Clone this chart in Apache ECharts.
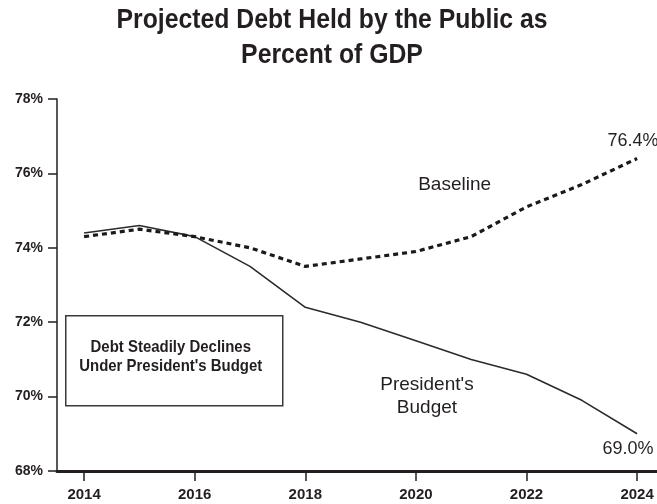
<!DOCTYPE html>
<html>
<head>
<meta charset="utf-8">
<script src="https://cdn.jsdelivr.net/npm/echarts@6/dist/echarts.min.js"></script>
<style>
  html, body { margin: 0; padding: 0; background: #fff; }
  #chart { width: 657px; height: 504px; }
</style>
</head>
<body>
<div id="chart"></div>
<script>
// Projected debt held by the public, percent of GDP, 2014-2024
var years = [2014, 2015, 2016, 2017, 2018, 2019, 2020, 2021, 2022, 2023, 2024];
var presidentsBudget = [74.4, 74.6, 74.3, 73.5, 72.4, 72.0, 71.5, 71.0, 70.6, 69.9, 69.0];
var baseline = [74.3, 74.5, 74.3, 74.0, 73.5, 73.7, 73.9, 74.3, 75.1, 75.7, 76.4];
var yearTicks = [2014, 2016, 2018, 2020, 2022, 2024];
var percentTicks = [68, 70, 72, 74, 76, 78];

var FONT = '"Liberation Sans", Arial, sans-serif';
var INK = '#231f20';
var LAST = years.length - 1;

function pairs(vals) {
  return years.map(function (y, i) { return [y, vals[i]]; });
}

// invisible anchor carrying a text label at a data coordinate
function textPoint(coord, text, label) {
  var l = Object.assign({
    show: true,
    formatter: text,
    fontFamily: FONT,
    fontSize: 19,
    color: INK
  }, label || {});
  return {
    coord: coord,
    value: coord[1],
    symbol: 'circle',
    symbolSize: 0,
    itemStyle: { color: 'rgba(0,0,0,0)' },
    label: l
  };
}

function endValueText(p) {
  return p.value.toFixed(1) + '%';
}

var chart = echarts.init(document.getElementById('chart'), null, { renderer: 'canvas' });

chart.setOption({
  animation: false,
  backgroundColor: '#ffffff',
  grid: { left: 57, right: 0, top: 99, bottom: 33 },
  xAxis: {
    type: 'value',
    min: 2013.51,
    max: 2024.36,
    splitLine: { show: false },
    axisLine: { onZero: false, lineStyle: { color: INK, width: 3 } },
    axisTick: {
      show: true,
      customValues: yearTicks,
      length: 10,
      lineStyle: { color: INK, width: 1.5 }
    },
    axisLabel: {
      customValues: yearTicks,
      margin: 16,
      fontFamily: FONT,
      fontWeight: 'bold',
      fontSize: 15,
      color: INK,
      formatter: function (v) { return String(v); }
    }
  },
  yAxis: {
    type: 'value',
    min: percentTicks[0],
    max: percentTicks[percentTicks.length - 1],
    interval: 2,
    splitLine: { show: false },
    axisLine: { show: true, lineStyle: { color: INK, width: 1.5 } },
    axisTick: { show: true, length: 9, lineStyle: { color: INK, width: 1.5 } },
    axisLabel: {
      margin: 14,
      fontFamily: FONT,
      fontWeight: 'bold',
      fontSize: 14,
      color: INK,
      formatter: '{value}%'
    }
  },
  series: [
    {
      name: "President's Budget",
      type: 'line',
      data: pairs(presidentsBudget),
      showSymbol: false,
      lineStyle: { color: '#2b2b2b', width: 1.6 },
      markPoint: {
        silent: true,
        data: [
          textPoint([2020.2, 70.0], "President's\nBudget", { lineHeight: 23 }),
          textPoint([years[LAST], presidentsBudget[LAST]], endValueText,
            { fontSize: 18, position: 'bottom', distance: 6, offset: [-9, 0] })
        ]
      },
      z: 3
    },
    {
      name: 'Baseline',
      type: 'line',
      data: pairs(baseline),
      showSymbol: false,
      lineStyle: { color: '#1a1a1a', width: 3.2, type: [5, 4] },
      markPoint: {
        silent: true,
        data: [
          textPoint([2020.7, 75.7], 'Baseline'),
          textPoint([years[LAST], baseline[LAST]], endValueText,
            { fontSize: 18, position: 'top', distance: 8, offset: [-4, 0] })
        ]
      },
      z: 4
    }
  ],
  graphic: [
    {
      type: 'text',
      x: 332,
      y: 3,
      scaleX: 0.885,
      style: {
        text: 'Projected Debt Held by the Public as\nPercent of GDP',
        fontFamily: FONT,
        fontWeight: 'bold',
        fontSize: 28,
        lineHeight: 35,
        fill: INK,
        align: 'center',
        verticalAlign: 'top'
      }
    },
    {
      type: 'group',
      left: 65,
      top: 315,
      children: [
        {
          type: 'rect',
          shape: { x: 0, y: 0, width: 217, height: 90 },
          style: { fill: '#ffffff', stroke: '#3a3a3a', lineWidth: 1.5 }
        },
        {
          type: 'text',
          x: 105,
          y: 22,
          scaleX: 0.88,
          style: {
            text: 'Debt Steadily Declines\nUnder President\'s Budget',
            fontFamily: FONT,
            fontWeight: 'bold',
            fontSize: 17,
            lineHeight: 19,
            fill: INK,
            align: 'center',
            verticalAlign: 'top'
          }
        }
      ]
    }
  ]
});
</script>
</body>
</html>
